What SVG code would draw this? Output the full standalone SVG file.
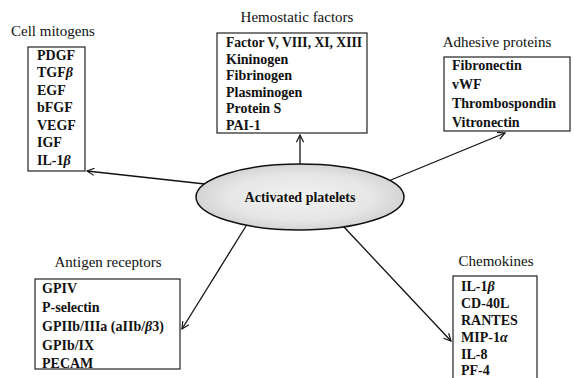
<svg xmlns="http://www.w3.org/2000/svg" width="574" height="378" viewBox="0 0 574 378">
<defs>
<style>
text{font-family:"Liberation Serif","DejaVu Serif",serif;font-size:14px;fill:#111;font-weight:bold}
.h{font-size:15px;font-weight:normal}
.box{fill:#fff;stroke:#222;stroke-width:1.2}
.conn{stroke:#111;stroke-width:1.3;fill:none;marker-end:url(#ah)}
.t{text-anchor:middle}
</style>
<radialGradient id="g" cx="0.5" cy="0.5" r="0.5">
<stop offset="0" stop-color="#f2f2f2"/>
<stop offset="0.7" stop-color="#e6e6e6"/>
<stop offset="1" stop-color="#d4d4d4"/>
</radialGradient>
<marker id="ah" viewBox="0 0 10 10" refX="9" refY="5" markerWidth="9" markerHeight="9" markerUnits="userSpaceOnUse" orient="auto">
<path d="M1,1 L9,5 L1,9" fill="none" stroke="#111" stroke-width="1.3"/>
</marker>
</defs>
<rect width="574" height="378" fill="#fff"/>
<g id="connectors">
<line class="conn" x1="300" y1="164" x2="300" y2="135"/>
<line class="conn" x1="386" y1="182" x2="505" y2="133"/>
<line class="conn" x1="205" y1="184" x2="87" y2="171"/>
<line class="conn" x1="246" y1="226" x2="182" y2="329"/>
<line class="conn" x1="344" y1="227" x2="451" y2="341"/>
</g>
<g id="center">
<ellipse cx="300" cy="197" rx="104" ry="33" fill="url(#g)" stroke="#111" stroke-width="1.5"/>
<text class="t" x="300" y="202">Activated platelets</text>
</g>
<g id="cell-mitogens">
<text class="h" x="11" y="36">Cell mitogens</text>
<rect class="box" x="28" y="47" width="57" height="124"/>
<text x="37" y="60">PDGF</text>
<text x="37" y="77">TGF<tspan font-style="italic">β</tspan></text>
<text x="37" y="95">EGF</text>
<text x="37" y="112">bFGF</text>
<text x="37" y="130">VEGF</text>
<text x="37" y="147">IGF</text>
<text x="37" y="165">IL-1<tspan font-style="italic">β</tspan></text>
</g>
<g id="hemostatic">
<text class="h t" x="297" y="22">Hemostatic factors</text>
<rect class="box" x="217" y="33" width="150" height="100"/>
<text x="226" y="47" textLength="136" lengthAdjust="spacingAndGlyphs">Factor V, VIII, XI, XIII</text>
<text x="226" y="64">Kininogen</text>
<text x="226" y="80">Fibrinogen</text>
<text x="226" y="97">Plasminogen</text>
<text x="226" y="113">Protein S</text>
<text x="226" y="130">PAI-1</text>
</g>
<g id="adhesive">
<text class="h t" x="497" y="47">Adhesive proteins</text>
<rect class="box" x="444" y="57" width="126" height="74"/>
<text x="452" y="70">Fibronectin</text>
<text x="452" y="89">vWF</text>
<text x="452" y="108">Thrombospondin</text>
<text x="452" y="127">Vitronectin</text>
</g>
<g id="antigen">
<text class="h t" x="108" y="267">Antigen receptors</text>
<rect class="box" x="35" y="279" width="145" height="90"/>
<text x="42" y="293">GPIV</text>
<text x="42" y="312">P-selectin</text>
<text x="42" y="331">GPIIb/IIIa (aIIb/<tspan font-style="italic">β</tspan>3)</text>
<text x="42" y="350">GPIb/IX</text>
<text x="42" y="368">PECAM</text>
</g>
<g id="chemokines">
<text class="h t" x="496" y="266">Chemokines</text>
<rect class="box" x="453" y="276" width="84" height="110"/>
<text x="461" y="291">IL-1<tspan font-style="italic">β</tspan></text>
<text x="461" y="308">CD-40L</text>
<text x="461" y="325">RANTES</text>
<text x="461" y="342">MIP-1<tspan font-style="italic">α</tspan></text>
<text x="461" y="359">IL-8</text>
<text x="461" y="375">PF-4</text>
</g>
</svg>
